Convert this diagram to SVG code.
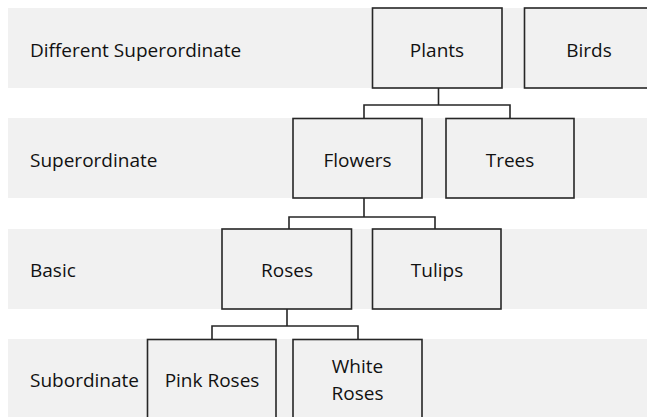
<svg xmlns="http://www.w3.org/2000/svg" width="647" height="417" viewBox="0 0 647 417">
<style>
.band{fill:#f1f1f1}
.box{fill:#f1f1f1;stroke:#262626;stroke-width:1.6}
.lbl{font-family:"Open Sans","Noto Sans",sans-serif;font-size:19px;fill:#111}
.ct{text-anchor:middle}
.conn{fill:none;stroke:#262626;stroke-width:1.6}
</style>
<g id="bands">
<rect class="band" x="8" y="8" width="640" height="80"/>
<rect class="band" x="8" y="118" width="640" height="80"/>
<rect class="band" x="8" y="229" width="640" height="80"/>
<rect class="band" x="8" y="339" width="640" height="80"/>
</g>
<g id="level-labels">
<text class="lbl" x="30" y="57">Different Superordinate</text>
<text class="lbl" x="30" y="167">Superordinate</text>
<text class="lbl" x="30" y="277">Basic</text>
<text class="lbl" x="30" y="387">Subordinate</text>
</g>
<g id="connectors">
<path class="conn" d="M438.5 88V105M364 118V105H510V118"/>
<path class="conn" d="M364 198V217M289 229V217H435V229"/>
<path class="conn" d="M287 309V326M212 339V326H358V339"/>
</g>
<g id="plants"><rect class="box" x="372.5" y="8" width="129.5" height="80"/><text class="lbl ct" x="437" y="57">Plants</text></g>
<g id="birds"><rect class="box" x="524.5" y="8" width="130" height="80"/><text class="lbl ct" x="589" y="57">Birds</text></g>
<g id="flowers"><rect class="box" x="293" y="118.5" width="129" height="79.5"/><text class="lbl ct" x="357.5" y="167">Flowers</text></g>
<g id="trees"><rect class="box" x="446" y="118.5" width="128" height="79.5"/><text class="lbl ct" x="510" y="167">Trees</text></g>
<g id="roses"><rect class="box" x="222" y="229" width="129.5" height="80"/><text class="lbl ct" x="287" y="277">Roses</text></g>
<g id="tulips"><rect class="box" x="372.5" y="229" width="128.5" height="80"/><text class="lbl ct" x="437" y="277">Tulips</text></g>
<g id="pink-roses"><rect class="box" x="147.5" y="339.5" width="128.5" height="85"/><text class="lbl ct" x="212" y="387">Pink Roses</text></g>
<g id="white-roses"><rect class="box" x="293" y="339.5" width="129" height="85"/><text class="lbl ct" x="357.5" y="373">White</text><text class="lbl ct" x="357.5" y="400">Roses</text></g>
</svg>
